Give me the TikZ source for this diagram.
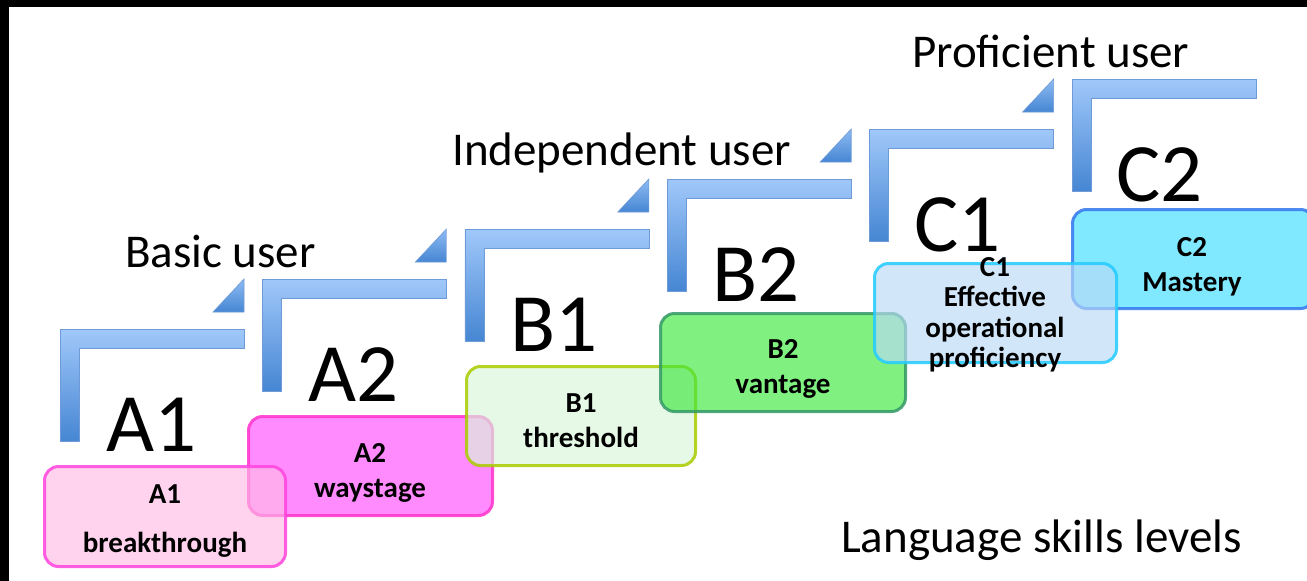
\documentclass[tikz,border=0pt]{standalone}
\usepackage{fontspec}
\setmainfont{Carlito}
\usetikzlibrary{positioning}
\definecolor{pinkA}{RGB}{255,186,229}
\definecolor{pinkAline}{RGB}{255,68,221}
\definecolor{magA}{RGB}{255,78,255}
\definecolor{magAline}{RGB}{255,51,204}
\definecolor{greenB}{RGB}{217,247,217}
\definecolor{greenBline}{RGB}{170,204,0}
\definecolor{leafB}{RGB}{60,232,60}
\definecolor{leafBline}{RGB}{51,153,102}
\definecolor{skyC}{RGB}{186,217,247}
\definecolor{skyCline}{RGB}{34,204,255}
\definecolor{cyanC}{RGB}{60,220,255}
\definecolor{cyanCline}{RGB}{51,119,238}
\definecolor{stepTop}{RGB}{160,200,250}
\definecolor{stepBot}{RGB}{70,134,211}
\definecolor{stepEdge}{RGB}{110,155,215}
\tikzset{
	% estils dels nivells i de les caixes
	nivell/.style = {font=\fontsize{83}{90}\selectfont, anchor=base west, inner sep=0pt},
	grup/.style = {font=\fontsize{47}{54}\selectfont, anchor=base west, inner sep=0pt},
	caixa/.style = {rectangle, rounded corners=14pt, line width=3pt,
	                minimum width=242pt, minimum height=99pt, anchor=north west,
	                draw opacity=0.85, fill opacity=0.65},
	rotul/.style = {align=center, font=\bfseries\fontsize{29}{35}\selectfont,
	                inner sep=0pt, anchor=north},
	esglao/.style = {top color=stepTop, bottom color=stepBot, draw=stepEdge, line width=0.6pt},
	punta/.style = {top color=stepTop!80!stepBot, bottom color=stepBot, draw=stepEdge, line width=0.6pt}
}
\begin{document}
\begin{tikzpicture}[x=1pt, y=-1pt]
		\useasboundingbox (0,0) rectangle (1307,581);
		\fill[black] (0,0) rectangle (1307,581);
		\fill[white] (9,7) rectangle (1307,581);
		
		% escales
		\foreach \k in {0,...,5} {
			\pgfmathsetmacro\xl{60+202.4*\k}
			\pgfmathsetmacro\yt{329-50*\k}
			\path[esglao] (\xl,\yt) -- ++(184,0) -- ++(0,19) -- ++(-165,0) -- ++(0,93) -- ++(-19,0) -- cycle;
		}
		\foreach \k in {0,...,4} {
			\pgfmathsetmacro\xr{244+202.4*\k}
			\pgfmathsetmacro\yt{279-50*\k}
			\path[punta] (\xr,\yt) -- ++(0,33) -- ++(-31,0) -- cycle;
		}
		
		\foreach \n [count=\k from 0] in {A1,A2,B1,B2,C1,C2}
			\node (nom\n) [nivell] at (106+202*\k, 451-50*\k) {\n};
		
		\node (basic) [grup] at (125,267) {Basic user};
		\node (indep) [grup] at (452,165) {Independent user};
		\node (prof)  [grup] at (912,67)  {Proficient user};
		\node (titol) [grup] at (841,552) {Language skills levels};
		
		\node (a2) [caixa, draw=magAline, fill=magA, minimum width=244pt]     at (247,415) {};
		\node (a1) [caixa, draw=pinkAline, fill=pinkA, minimum width=241pt, minimum height=100pt] at (43,465) {};
		\node (b1) [caixa, draw=greenBline, fill=greenB, minimum width=229pt] at (465,365) {};
		\node (b2) [caixa, draw=leafBline, fill=leafB, minimum width=245pt, minimum height=98pt] at (659,312) {};
		\node (c2) [caixa, draw=cyanCline, fill=cyanC]   at (1071,208) {};
		\node (c1) [caixa, draw=skyCline, fill=skyC]     at (873,262) {};
		
		\node (a1t) [rotul] at (165,484) {A1\\[14pt]breakthrough};
		\node (a2t) [rotul] at (370,443) {A2\\waystage};
		\node (b1t) [rotul] at (581,393) {B1\\threshold};
		\node (b2t) [rotul] at (783,339) {B2\\vantage};
		\node (c1t) [rotul, font=\bfseries\fontsize{29}{30.5}\selectfont] at (995,257) {C1\\Effective\\operational\\proficiency};
		\node (c2t) [rotul] at (1192,237) {C2\\Mastery};
	\end{tikzpicture}
\end{document}
